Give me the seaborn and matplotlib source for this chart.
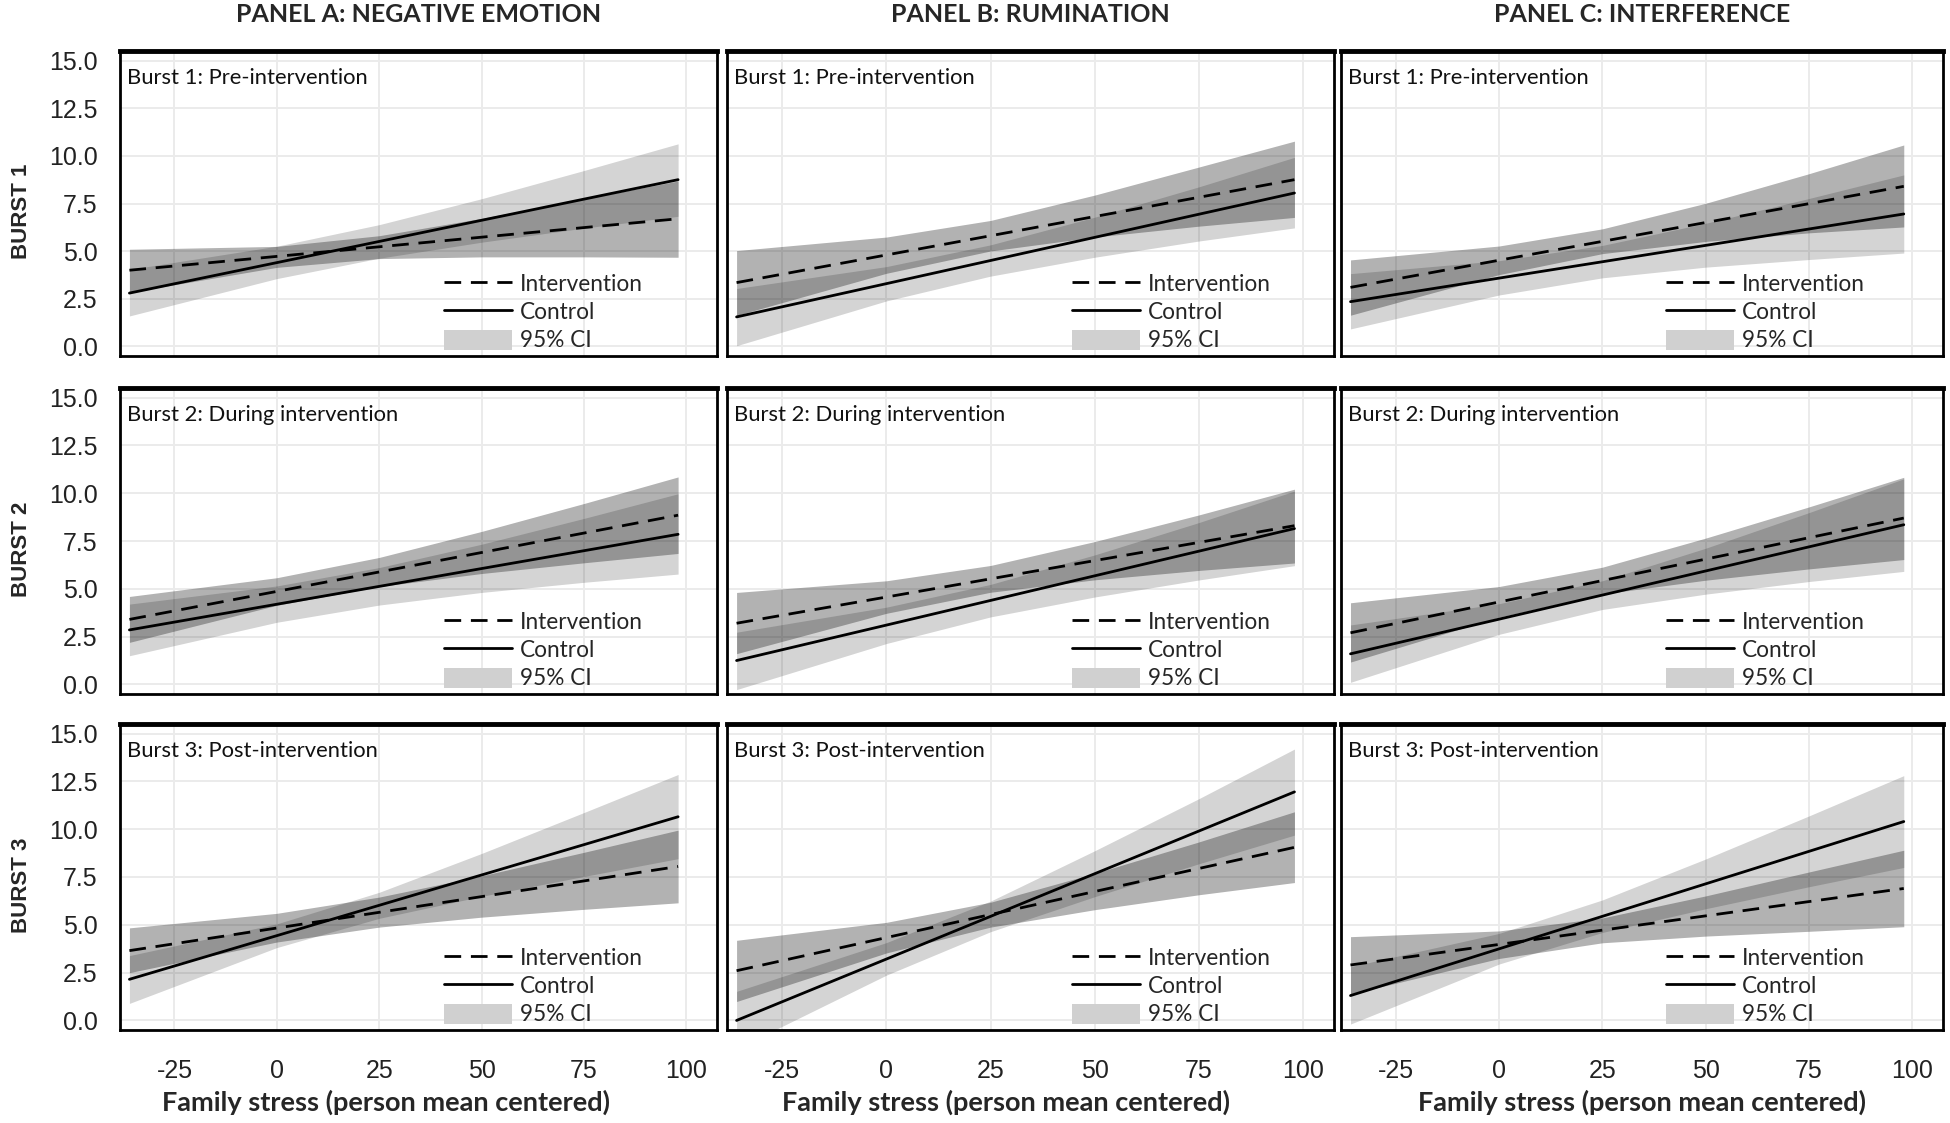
import pandas as pd
import seaborn as sns
import matplotlib.pyplot as plt
from matplotlib.lines import Line2D
from matplotlib.patches import Patch

panel_titles = ['PANEL A: NEGATIVE EMOTION', 'PANEL B: RUMINATION', 'PANEL C: INTERFERENCE']
burst_labels = ['BURST 1', 'BURST 2', 'BURST 3']
burst_titles = ['Burst 1: Pre-intervention', 'Burst 2: During intervention', 'Burst 3: Post-intervention']
x_label = 'Family stress (person mean centered)'
x_ticks = [-25, 0, 25, 50, 75, 100]
y_ticks = [0.0, 2.5, 5.0, 7.5, 10.0, 12.5, 15.0]

# fitted lines: value at the two ends of the observed range, [row][col]
x_ends = [-36, 98]
ctrl_line = [[[2.8, 8.75], [1.55, 8.05], [2.35, 6.95]],
             [[2.85, 7.85], [1.25, 8.15], [1.6, 8.35]],
             [[2.15, 10.65], [0.0, 11.95], [1.3, 10.4]]]
int_line = [[[4.0, 6.7], [3.35, 8.75], [3.1, 8.4]],
            [[3.4, 8.85], [3.2, 8.3], [2.7, 8.7]],
            [[3.65, 8.05], [2.6, 9.05], [2.9, 6.9]]]

# 95% CI bounds read at these x positions, [row][col]
x_ci = [-36, 0, 25, 50, 75, 98]
ctrl_lo = [[[1.6, 3.56, 4.63, 5.47, 6.21, 6.83], [0.04, 2.39, 3.69, 4.68, 5.53, 6.22], [0.92, 2.7, 3.6, 4.16, 4.56, 4.9]],
           [[1.5, 3.25, 4.15, 4.81, 5.34, 5.77], [-0.27, 2.14, 3.53, 4.57, 5.46, 6.21], [0.11, 2.62, 3.92, 4.72, 5.38, 5.91]],
           [[0.89, 3.81, 5.34, 6.49, 7.53, 8.46], [-1.48, 2.37, 4.64, 6.47, 8.19, 9.69], [-0.19, 2.95, 4.6, 5.84, 6.99, 8.0]]]
ctrl_hi = [[[4.04, 5.26, 6.39, 7.75, 9.23, 10.63], [3.04, 4.19, 5.33, 6.78, 8.37, 9.92], [3.82, 4.5, 5.3, 6.46, 7.76, 9.0]],
           [[4.2, 5.15, 6.11, 7.33, 8.68, 9.97], [2.73, 4.04, 5.23, 6.77, 8.46, 10.11], [3.11, 4.22, 5.42, 7.12, 8.98, 10.75]],
           [[3.39, 5.05, 6.7, 8.73, 10.87, 12.86], [1.52, 4.07, 6.24, 8.87, 11.59, 14.19], [2.81, 4.55, 6.3, 8.44, 10.69, 12.8]]]
int_lo = [[[2.84, 4.15, 4.61, 4.7, 4.7, 4.68], [1.63, 3.84, 5.01, 5.74, 6.31, 6.77], [1.64, 3.77, 4.87, 5.51, 5.96, 6.27]],
          [[2.2, 4.14, 5.12, 5.8, 6.36, 6.85], [1.61, 3.72, 4.82, 5.47, 5.96, 6.35], [1.17, 3.52, 4.73, 5.45, 6.04, 6.53]],
          [[2.5, 4.1, 4.88, 5.4, 5.81, 6.15], [0.99, 3.53, 4.88, 5.79, 6.57, 7.21], [1.38, 3.24, 4.06, 4.41, 4.66, 4.9]]]
int_hi = [[[5.1, 5.25, 5.81, 6.72, 7.74, 8.68], [5.03, 5.74, 6.61, 7.94, 9.41, 10.77], [4.54, 5.27, 6.17, 7.51, 9.06, 10.57]],
          [[4.6, 5.58, 6.64, 8.0, 9.46, 10.85], [4.81, 5.42, 6.22, 7.47, 8.86, 10.21], [4.27, 5.12, 6.13, 7.65, 9.28, 10.83]],
          [[4.84, 5.6, 6.45, 7.56, 8.79, 9.95], [4.19, 5.13, 6.18, 7.69, 9.33, 10.91], [4.38, 4.68, 5.36, 6.51, 7.76, 8.9]]]

sns.set_style('white')
plt.rcParams['font.family'] = ['Liberation Sans', 'DejaVu Sans']

# long table of the fitted lines
rows = []
for r in range(3):
    for c in range(3):
        for grp, src in (('Intervention', int_line), ('Control', ctrl_line)):
            for xv, yv in zip(x_ends, src[r][c]):
                rows.append({'row': r, 'col': c, 'group': grp, 'x': xv, 'y': yv})
lines_df = pd.DataFrame(rows)

W, H = 1950, 1123
fig = plt.figure(figsize=(W / 100, H / 100), dpi=100)

col_left = [120, 727, 1341]
col_right = [717, 1334, 1943]
row_top = [51, 388, 724]
row_bottom = [356, 694, 1030]
legend_x = [0.543, 0.568, 0.54]
xlabel_x = [0.445, 0.46, 0.50]
sans2 = ['Lato', 'DejaVu Sans']

dash_int = (6, 3.5)

for r in range(3):
    for c in range(3):
        ax = fig.add_axes([col_left[c] / W, 1 - row_bottom[r] / H,
                           (col_right[c] - col_left[c]) / W, (row_bottom[r] - row_top[r]) / H])
        ax.fill_between(x_ci, ctrl_lo[r][c], ctrl_hi[r][c], color='black', alpha=0.17, lw=0, zorder=2)
        ax.fill_between(x_ci, int_lo[r][c], int_hi[r][c], color='black', alpha=0.30, lw=0, zorder=2)

        sub = lines_df[(lines_df['row'] == r) & (lines_df['col'] == c)]
        sns.lineplot(data=sub, x='x', y='y', style='group', style_order=['Intervention', 'Control'],
                     dashes={'Intervention': dash_int, 'Control': ''}, color='black', linewidth=2.0,
                     estimator=None, sort=False, legend=False, ax=ax, zorder=3)

        ax.set_xlim(-38.3, 107.5)
        ax.set_ylim(-0.5, 15.5)
        ax.set_xticks(x_ticks)
        ax.set_yticks(y_ticks)
        ax.grid(True, color='#ebebeb', linewidth=1.4, zorder=0)
        ax.set_axisbelow(True)
        ax.set_xlabel('')
        ax.set_ylabel('')
        for side in ['left', 'right', 'bottom']:
            ax.spines[side].set_color('black')
            ax.spines[side].set_linewidth(2)
        ax.spines['top'].set_color('black')
        ax.spines['top'].set_linewidth(3.5)

        if c == 0:
            ax.set_yticklabels([f'{v:.1f}' for v in y_ticks])
            ax.tick_params(axis='y', length=10, width=2.2, color='#444444', pad=6,
                           labelsize=18, labelcolor='#222222')
        else:
            ax.tick_params(axis='y', left=False, labelleft=False)
        if r == 2:
            ax.set_xticklabels([str(v) for v in x_ticks])
            ax.tick_params(axis='x', length=10, width=2.2, color='#444444', pad=11,
                           labelsize=18, labelcolor='#222222')
            ax.text(xlabel_x[c], -0.235, x_label, transform=ax.transAxes, ha='center', va='center',
                    fontsize=19.5, fontweight='bold', family=sans2)
        else:
            ax.tick_params(axis='x', length=4, width=1.5, color='#666666', labelbottom=False)

        ax.text(0.012, 0.913, burst_titles[r], transform=ax.transAxes, ha='left', va='center',
                fontsize=15.8, family=sans2, color='#111111')

        handles = [Line2D([], [], color='black', lw=2.0, dashes=dash_int),
                   Line2D([], [], color='black', lw=2.0),
                   Patch(facecolor='#d0d0d0', edgecolor='none')]
        ax.legend(handles, ['Intervention', 'Control', '95% CI'], loc='lower left',
                  bbox_to_anchor=(legend_x[c], 0.015), frameon=False, handlelength=3.0,
                  handleheight=1.0, handletextpad=0.35, labelspacing=0.28, borderpad=0,
                  borderaxespad=0, prop={'family': sans2, 'size': 16.3})

        if r == 0:
            fig.text((col_left[c] + col_right[c]) / 2 / W, 1 - 15 / H, panel_titles[c],
                     ha='center', va='center', fontsize=18, fontweight='bold', family=sans2)
        if c == 0:
            fig.text(22 / W, 1 - ((row_top[r] + row_bottom[r]) / 2 + 8) / H, burst_labels[r],
                     rotation=90, ha='center', va='center', fontsize=16, fontweight='bold')

fig.savefig('out.png', dpi=100)
